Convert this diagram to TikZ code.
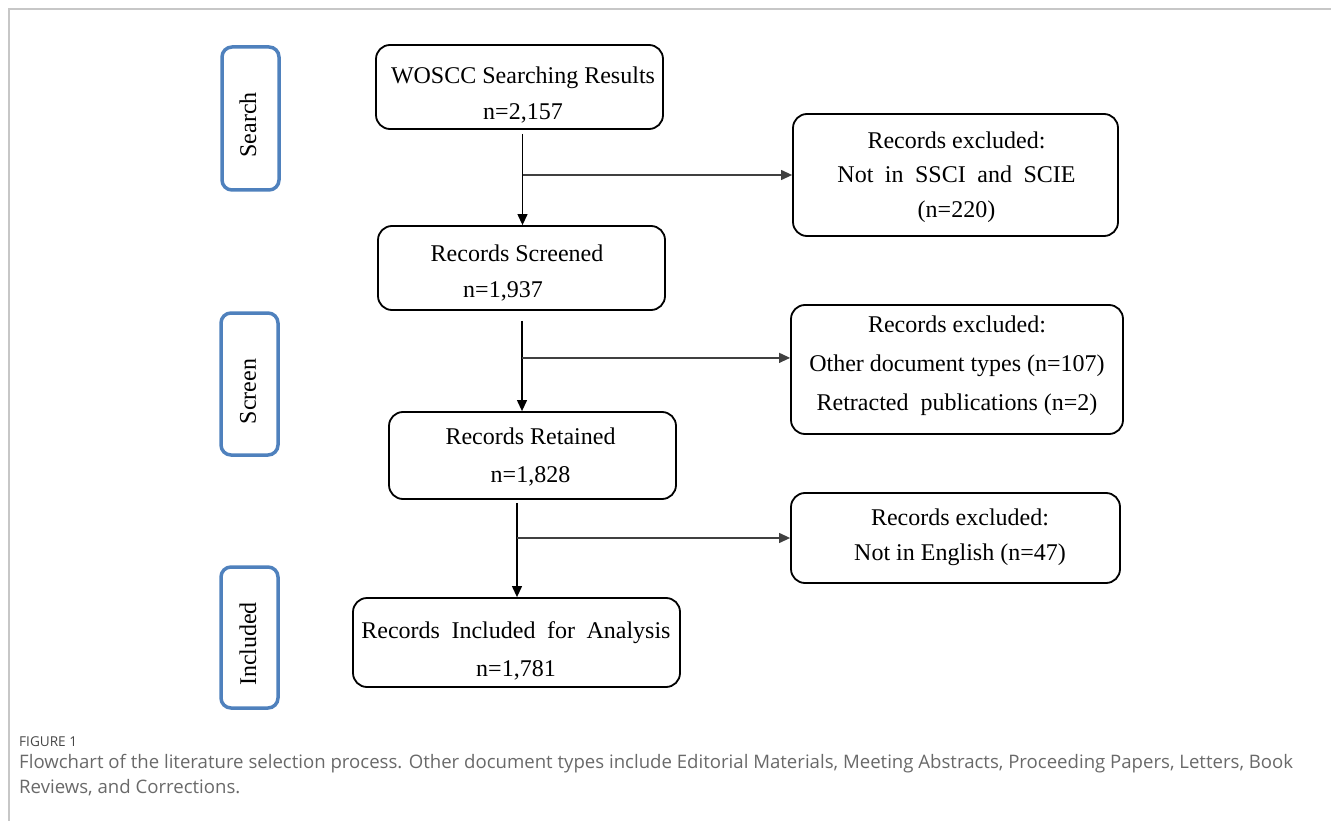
\documentclass[tikz,border=0pt]{standalone}
\usepackage{fontspec}
\setmainfont{Liberation Serif}
\newfontfamily\capfont{Open Sans}
\usetikzlibrary{arrows.meta}
\definecolor{stageblue}{RGB}{79,129,189}
\definecolor{capgray}{RGB}{105,105,105}
\newcommand{\wsp}{\hspace{0.48em}}

\begin{document}
\begin{tikzpicture}[x=1pt,y=-1pt,
  box/.style={draw,line width=1.8pt,rounded corners=14pt,inner sep=0pt},
  boxtext/.style={align=center,inner sep=0pt,font=\fontsize{24}{36}\selectfont},
  stage/.style={draw=stageblue,line width=3.5pt,rounded corners=10pt,minimum width=57pt,inner sep=0pt},
  stagetext/.style={rotate=90,inner sep=0pt,font=\fontsize{24}{28}\selectfont},
  arr/.style={-{Triangle[length=11pt,width=10pt]},line width=1.2pt},
  caption/.style={anchor=west,inner sep=0pt,text=capgray,font=\capfont\fontsize{18.6}{22}\selectfont}]
\useasboundingbox (0,0) rectangle (1331,821);
\draw[black!22,line width=1.5pt] (9,821) -- (9,9) -- (1331,9);

% stages
\node[stage,minimum height=143pt] (search) at (250.5,118.5) {};
\node[stagetext] (searcht) at (248,125) {Search};
\node[stage,minimum height=142pt] (screen) at (249.5,384) {};
\node[stagetext] (screent) at (248,391.5) {Screen};
\node[stage,minimum height=141pt] (incl) at (249.5,637.5) {};
\node[stagetext] (inclt) at (248,644) {Included};

% main boxes
\node[box,minimum width=287pt,minimum height=84pt] (wos) at (519.5,87) {};
\node[boxtext] (wost) at (523,95) {WOSCC Searching Results\\n=2,157};
\node[box,minimum width=287pt,minimum height=84pt] (scr) at (521.5,268) {};
\node[boxtext] (scrt) at (517,273) {Records Screened\\n=1,937\hspace*{28pt}};
\node[box,minimum width=287pt,minimum height=87pt] (ret) at (532.5,455.5) {};
\node[boxtext,font=\fontsize{24}{38.7}\selectfont] (rett) at (530.5,457) {Records Retained\\n=1,828};
\node[box,minimum width=327pt,minimum height=89pt] (inc) at (516.5,642.5) {};
\node[boxtext,font=\fontsize{24}{38.3}\selectfont] (inct) at (516,651) {Records\wsp Included\wsp for\wsp Analysis\\n=1,781};

% excluded boxes
\node[box,minimum width=325pt,minimum height=122pt] (ex1) at (955.5,175) {};
\node[boxtext,font=\fontsize{24}{34.4}\selectfont] (ex1t) at (956.5,177) {Records excluded:\\Not\wsp in\wsp SSCI\wsp and\wsp SCIE\\(n=220)};
\node[box,minimum width=332pt,minimum height=129pt] (ex2) at (957,369.5) {};
\node[boxtext,font=\fontsize{24}{39}\selectfont] (ex2t) at (957,366) {Records excluded:\\Other document types (n=107)\\Retracted\hspace{0.5em}publications (n=2)};
\node[box,minimum width=329pt,minimum height=90pt] (ex3) at (955.5,538) {};
\node[boxtext,font=\fontsize{24}{35}\selectfont] (ex3t) at (960,537.5) {Records excluded:\\Not in English (n=47)};

% arrows
\coordinate (t1) at ([xshift=3pt]wos.south);
\draw[arr] ([yshift=-4pt]t1) -- (t1 |- scr.north);
\draw[arr,black!75] (t1 |- ex1.west) -- (ex1.west);
\coordinate (t2) at ([xshift=0.5pt]scr.south);
\coordinate (b2) at ([yshift=-47pt]t2);
\draw[arr] ([yshift=-10pt]t2) -- (t2 |- ret.north);
\draw[arr,black!75] (b2) -- (b2 -| ex2.west);
\coordinate (t3) at ([xshift=0.5pt]inc.north);
\draw[arr] ([yshift=-3pt]t3 |- ret.south) -- (t3);
\draw[arr,black!75] (t3 |- ex3.west) -- (ex3.west);

% caption
\node[caption,font=\capfont\fontsize{13.6}{16}\selectfont,text=black!72] (figlabel) at (19,742) {FIGURE 1};
\node[caption] (cap1) at (19,763.5) {Flowchart of the literature selection process. Other document types include Editorial Materials, Meeting Abstracts, Proceeding Papers, Letters, Book};
\node[caption] (cap2) at (19,788) {Reviews, and Corrections.};
\end{tikzpicture}
\end{document}
